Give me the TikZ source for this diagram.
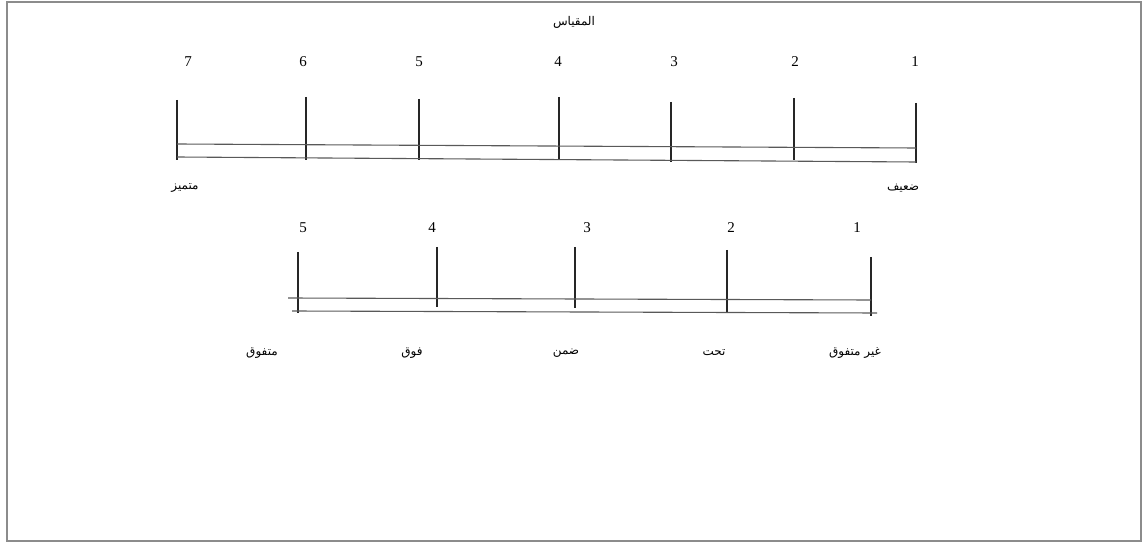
\documentclass[tikz,border=0pt]{standalone}
\usepackage{fontspec}
\setmainfont{Liberation Serif}
\newfontfamily\arabicfont[Script=Arabic]{DejaVu Sans}
\TeXXeTstate=1
\begin{document}
\begin{tikzpicture}[x=1pt,y=-1pt,
  num/.style={font=\fontsize{15}{17}\selectfont, inner sep=0pt},
  lab/.style={font=\arabicfont\fontsize{12}{14}\selectfont, inner sep=0pt},
  tick/.style={line width=1.2pt, black!85},
  hline/.style={line width=1.1pt, black!65}]
\useasboundingbox (0,0) rectangle (1143,545);
\draw[line width=1.2pt, black!45] (7,2) rectangle (1141,541);
% title
\node[lab] (title) at (574,22) {\beginR المقياس\endR};
% top scale
\foreach \n/\x/\t/\b in {7/177/100/160, 6/306/97/160, 5/419/99/160, 4/559/97/160, 3/671/102/162, 2/794/98/160, 1/916/103/163}{
  \coordinate (ta\n) at (\x,\t);
  \coordinate (tb\n) at (\x,\b);
  \draw[tick] (ta\n) -- (tb\n);
}
\foreach \n/\x in {7/188, 6/303, 5/419, 4/558, 3/674, 2/795, 1/915}{
  \node[num] (tn\n) at (\x,62) {\n};
}
\coordinate (tl1) at (177,144);
\coordinate (tr1) at (916,148);
\coordinate (tl2) at (177,157);
\coordinate (tr2) at (916,162);
\draw[hline] (tl1) -- (tr1);
\draw[hline] (tl2) -- (tr2);
\node[lab] (mut) at (185,188) {\beginR متميز\endR};
\node[lab] (daif) at (903,188) {\beginR ضعيف\endR};
% bottom scale
\foreach \n/\x/\t/\b in {5/298/252/313, 4/437/247/307, 3/575/247/308, 2/727/250/312, 1/871/257/316}{
  \coordinate (ba\n) at (\x,\t);
  \coordinate (bb\n) at (\x,\b);
  \draw[tick] (ba\n) -- (bb\n);
}
\foreach \n/\x in {5/303, 4/432, 3/587, 2/731, 1/857}{
  \node[num] (bn\n) at (\x,228) {\n};
}
\coordinate (bl1) at (288,298);
\coordinate (br1) at (871,300);
\coordinate (bl2) at (292,311);
\coordinate (br2) at (877,313);
\draw[hline] (bl1) -- (br1);
\draw[hline] (bl2) -- (br2);
\node[lab] (l5) at (262,353) {\beginR متفوق\endR};
\node[lab] (l4) at (412,353) {\beginR فوق\endR};
\node[lab] (l3) at (566,353) {\beginR ضمن\endR};
\node[lab] (l2) at (714,353) {\beginR تحت\endR};
\node[lab] (l1) at (855,353) {\beginR غير متفوق\endR};
\end{tikzpicture}
\end{document}
